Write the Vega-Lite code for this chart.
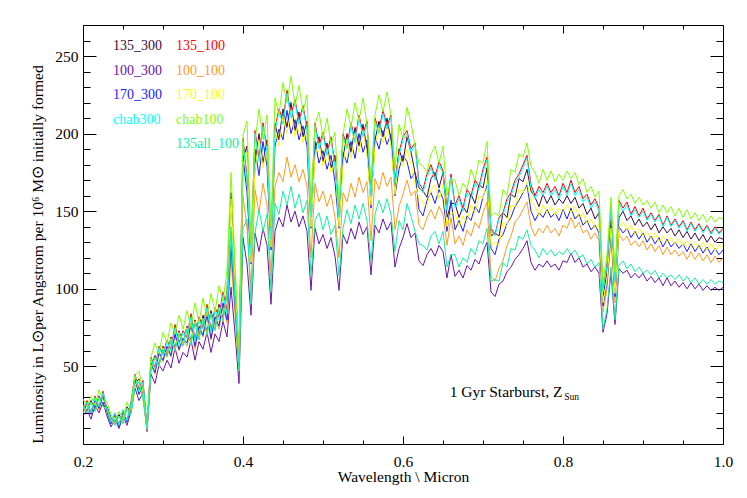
{
"$schema":"https://vega.github.io/schema/vega-lite/v6.json",
"width":640,"height":419,
"autosize":{"type":"none"},
"padding":{"left":83,"top":25,"right":24,"bottom":54},
"background":"white",
"config":{
"view":{"stroke":"#000","strokeWidth":1},
"font":"Liberation Serif",
"axis":{"labelFont":"Liberation Serif","labelFontSize":15.5,"labelColor":"#000","titleFont":"Liberation Serif","titleFontSize":15.5,"titleFontWeight":"normal","titleColor":"#000","tickColor":"#000","tickWidth":1,"domain":false,"grid":false,"labelFlush":false}
},
"datasets":{
"s135_300":[{"w":0.2,"v":26},{"w":0.205,"v":21},{"w":0.21,"v":28},{"w":0.215,"v":22},{"w":0.22,"v":31},{"w":0.225,"v":25},{"w":0.23,"v":24},{"w":0.235,"v":17},{"w":0.24,"v":13},{"w":0.245,"v":19},
{"w":0.25,"v":14},{"w":0.255,"v":24},{"w":0.26,"v":20},{"w":0.265,"v":39},{"w":0.27,"v":42},{"w":0.275,"v":30},{"w":0.28,"v":10},{"w":0.285,"v":50},{"w":0.29,"v":57},{"w":0.295,"v":51},
{"w":0.3,"v":63},{"w":0.305,"v":57},{"w":0.31,"v":69},{"w":0.315,"v":62},{"w":0.32,"v":73},{"w":0.325,"v":65},{"w":0.33,"v":76},{"w":0.335,"v":66},{"w":0.34,"v":80},{"w":0.345,"v":69},
{"w":0.35,"v":83},{"w":0.355,"v":72},{"w":0.36,"v":86},{"w":0.365,"v":75},{"w":0.37,"v":90},{"w":0.375,"v":81},{"w":0.38,"v":99},{"w":0.385,"v":162},{"w":0.39,"v":108},{"w":0.395,"v":54},
{"w":0.4,"v":184},{"w":0.405,"v":192},{"w":0.41,"v":120},{"w":0.415,"v":180},{"w":0.42,"v":200},{"w":0.425,"v":181},{"w":0.43,"v":196},{"w":0.435,"v":129},{"w":0.44,"v":206},{"w":0.445,"v":196},
{"w":0.45,"v":216},{"w":0.455,"v":204},{"w":0.46,"v":220},{"w":0.465,"v":202},{"w":0.47,"v":214},{"w":0.475,"v":198},{"w":0.48,"v":208},{"w":0.485,"v":143},{"w":0.49,"v":190},{"w":0.495,"v":198},
{"w":0.5,"v":182},{"w":0.505,"v":194},{"w":0.51,"v":178},{"w":0.515,"v":186},{"w":0.52,"v":143},{"w":0.525,"v":184},{"w":0.53,"v":200},{"w":0.535,"v":188},{"w":0.54,"v":204},{"w":0.545,"v":192},
{"w":0.55,"v":206},{"w":0.555,"v":190},{"w":0.56,"v":157},{"w":0.565,"v":196},{"w":0.57,"v":208},{"w":0.575,"v":198},{"w":0.58,"v":210},{"w":0.585,"v":196},{"w":0.59,"v":165},{"w":0.595,"v":190},
{"w":0.6,"v":182},{"w":0.605,"v":198},{"w":0.61,"v":188},{"w":0.615,"v":175},{"w":0.62,"v":165},{"w":0.625,"v":163},{"w":0.63,"v":159},{"w":0.635,"v":171},{"w":0.64,"v":175},{"w":0.645,"v":165},
{"w":0.65,"v":175},{"w":0.655,"v":146},{"w":0.66,"v":155},{"w":0.665,"v":155},{"w":0.67,"v":146},{"w":0.675,"v":153},{"w":0.68,"v":149},{"w":0.685,"v":161},{"w":0.69,"v":155},{"w":0.695,"v":167},
{"w":0.7,"v":165},{"w":0.705,"v":178},{"w":0.71,"v":134},{"w":0.715,"v":136},{"w":0.72,"v":134},{"w":0.725,"v":149},{"w":0.73,"v":146},{"w":0.735,"v":161},{"w":0.74,"v":159},{"w":0.745,"v":171},
{"w":0.75,"v":169},{"w":0.755,"v":177},{"w":0.76,"v":163},{"w":0.765,"v":159},{"w":0.77,"v":153},{"w":0.775,"v":161},{"w":0.78,"v":155},{"w":0.785,"v":160},{"w":0.79,"v":154},{"w":0.795,"v":158},
{"w":0.8,"v":155},{"w":0.805,"v":160},{"w":0.81,"v":155},{"w":0.815,"v":159},{"w":0.82,"v":152},{"w":0.825,"v":155},{"w":0.83,"v":148},{"w":0.835,"v":152},{"w":0.84,"v":145},{"w":0.845,"v":149},
{"w":0.85,"v":95},{"w":0.855,"v":111},{"w":0.86,"v":145},{"w":0.865,"v":101},{"w":0.87,"v":146},{"w":0.875,"v":150},{"w":0.88,"v":144},{"w":0.885,"v":147},{"w":0.89,"v":141},{"w":0.895,"v":145},
{"w":0.9,"v":140},{"w":0.905,"v":143},{"w":0.91,"v":138},{"w":0.915,"v":142},{"w":0.92,"v":136},{"w":0.925,"v":140},{"w":0.93,"v":136},{"w":0.935,"v":139},{"w":0.94,"v":134},{"w":0.945,"v":138},
{"w":0.95,"v":133},{"w":0.955,"v":137},{"w":0.96,"v":132},{"w":0.965,"v":136},{"w":0.97,"v":131},{"w":0.975,"v":135},{"w":0.98,"v":130},{"w":0.985,"v":134},{"w":0.99,"v":130},{"w":0.995,"v":133},
{"w":1,"v":132}],
"s135_100":[{"w":0.2,"v":22},{"w":0.205,"v":28},{"w":0.21,"v":20},{"w":0.215,"v":31},{"w":0.22,"v":24},{"w":0.225,"v":34},{"w":0.23,"v":22},{"w":0.235,"v":14},{"w":0.24,"v":20},{"w":0.245,"v":12},
{"w":0.25,"v":22},{"w":0.255,"v":15},{"w":0.26,"v":27},{"w":0.265,"v":45},{"w":0.27,"v":35},{"w":0.275,"v":41},{"w":0.28,"v":10},{"w":0.285,"v":56},{"w":0.29,"v":49},{"w":0.295,"v":63},
{"w":0.3,"v":58},{"w":0.305,"v":67},{"w":0.31,"v":61},{"w":0.315,"v":77},{"w":0.32,"v":65},{"w":0.325,"v":73},{"w":0.33,"v":69},{"w":0.335,"v":84},{"w":0.34,"v":67},{"w":0.345,"v":82},
{"w":0.35,"v":75},{"w":0.355,"v":90},{"w":0.36,"v":73},{"w":0.365,"v":88},{"w":0.37,"v":82},{"w":0.375,"v":98},{"w":0.38,"v":86},{"w":0.385,"v":136},{"w":0.39,"v":96},{"w":0.395,"v":56},
{"w":0.4,"v":197},{"w":0.405,"v":172},{"w":0.41,"v":123},{"w":0.415,"v":202},{"w":0.42,"v":184},{"w":0.425,"v":207},{"w":0.43,"v":190},{"w":0.435,"v":133},{"w":0.44,"v":204},{"w":0.445,"v":216},
{"w":0.45,"v":208},{"w":0.455,"v":228},{"w":0.46,"v":212},{"w":0.465,"v":222},{"w":0.47,"v":208},{"w":0.475,"v":218},{"w":0.48,"v":204},{"w":0.485,"v":147},{"w":0.49,"v":207},{"w":0.495,"v":192},
{"w":0.5,"v":201},{"w":0.505,"v":188},{"w":0.51,"v":198},{"w":0.515,"v":180},{"w":0.52,"v":147},{"w":0.525,"v":200},{"w":0.53,"v":192},{"w":0.535,"v":207},{"w":0.54,"v":196},{"w":0.545,"v":212},
{"w":0.55,"v":200},{"w":0.555,"v":208},{"w":0.56,"v":162},{"w":0.565,"v":210},{"w":0.57,"v":202},{"w":0.575,"v":215},{"w":0.58,"v":205},{"w":0.585,"v":212},{"w":0.59,"v":170},{"w":0.595,"v":188},
{"w":0.6,"v":198},{"w":0.605,"v":202},{"w":0.61,"v":190},{"w":0.615,"v":194},{"w":0.62,"v":168},{"w":0.625,"v":164},{"w":0.63,"v":174},{"w":0.635,"v":180},{"w":0.64,"v":172},{"w":0.645,"v":182},
{"w":0.65,"v":176},{"w":0.655,"v":152},{"w":0.66,"v":174},{"w":0.665,"v":154},{"w":0.67,"v":160},{"w":0.675,"v":152},{"w":0.68,"v":164},{"w":0.685,"v":160},{"w":0.69,"v":170},{"w":0.695,"v":166},
{"w":0.7,"v":177},{"w":0.705,"v":185},{"w":0.71,"v":139},{"w":0.715,"v":135},{"w":0.72,"v":146},{"w":0.725,"v":149},{"w":0.73,"v":158},{"w":0.735,"v":162},{"w":0.74,"v":170},{"w":0.745,"v":174},
{"w":0.75,"v":180},{"w":0.755,"v":186},{"w":0.76,"v":167},{"w":0.765,"v":160},{"w":0.77,"v":166},{"w":0.775,"v":162},{"w":0.78,"v":168},{"w":0.785,"v":162},{"w":0.79,"v":166},{"w":0.795,"v":160},
{"w":0.8,"v":168},{"w":0.805,"v":162},{"w":0.81,"v":170},{"w":0.815,"v":162},{"w":0.82,"v":166},{"w":0.825,"v":158},{"w":0.83,"v":161},{"w":0.835,"v":154},{"w":0.84,"v":158},{"w":0.845,"v":152},
{"w":0.85,"v":99},{"w":0.855,"v":116},{"w":0.86,"v":154},{"w":0.865,"v":106},{"w":0.87,"v":157},{"w":0.875,"v":152},{"w":0.88,"v":156},{"w":0.885,"v":148},{"w":0.89,"v":153},{"w":0.895,"v":147},
{"w":0.9,"v":152},{"w":0.905,"v":145},{"w":0.91,"v":149},{"w":0.915,"v":144},{"w":0.92,"v":148},{"w":0.925,"v":141},{"w":0.93,"v":147},{"w":0.935,"v":141},{"w":0.94,"v":145},{"w":0.945,"v":140},
{"w":0.95,"v":144},{"w":0.955,"v":138},{"w":0.96,"v":143},{"w":0.965,"v":138},{"w":0.97,"v":142},{"w":0.975,"v":137},{"w":0.98,"v":141},{"w":0.985,"v":136},{"w":0.99,"v":140},{"w":0.995,"v":136},
{"w":1,"v":139}],
"s100_300":[{"w":0.2,"v":18},{"w":0.205,"v":22},{"w":0.21,"v":16},{"w":0.215,"v":25},{"w":0.22,"v":20},{"w":0.225,"v":27},{"w":0.23,"v":18},{"w":0.235,"v":11},{"w":0.24,"v":16},{"w":0.245,"v":10},
{"w":0.25,"v":18},{"w":0.255,"v":12},{"w":0.26,"v":21},{"w":0.265,"v":36},{"w":0.27,"v":28},{"w":0.275,"v":33},{"w":0.28,"v":8},{"w":0.285,"v":45},{"w":0.29,"v":39},{"w":0.295,"v":51},
{"w":0.3,"v":47},{"w":0.305,"v":54},{"w":0.31,"v":49},{"w":0.315,"v":62},{"w":0.32,"v":52},{"w":0.325,"v":59},{"w":0.33,"v":56},{"w":0.335,"v":67},{"w":0.34,"v":54},{"w":0.345,"v":66},
{"w":0.35,"v":61},{"w":0.355,"v":72},{"w":0.36,"v":59},{"w":0.365,"v":71},{"w":0.37,"v":66},{"w":0.375,"v":79},{"w":0.38,"v":69},{"w":0.385,"v":101},{"w":0.39,"v":71},{"w":0.395,"v":39},
{"w":0.4,"v":133},{"w":0.405,"v":116},{"w":0.41,"v":83},{"w":0.415,"v":136},{"w":0.42,"v":124},{"w":0.425,"v":139},{"w":0.43,"v":128},{"w":0.435,"v":90},{"w":0.44,"v":137},{"w":0.445,"v":146},
{"w":0.45,"v":140},{"w":0.455,"v":154},{"w":0.46,"v":143},{"w":0.465,"v":150},{"w":0.47,"v":140},{"w":0.475,"v":147},{"w":0.48,"v":137},{"w":0.485,"v":99},{"w":0.49,"v":139},{"w":0.495,"v":129},
{"w":0.5,"v":135},{"w":0.505,"v":126},{"w":0.51,"v":133},{"w":0.515,"v":121},{"w":0.52,"v":99},{"w":0.525,"v":135},{"w":0.53,"v":129},{"w":0.535,"v":139},{"w":0.54,"v":132},{"w":0.545,"v":143},
{"w":0.55,"v":135},{"w":0.555,"v":140},{"w":0.56,"v":109},{"w":0.565,"v":141},{"w":0.57,"v":136},{"w":0.575,"v":145},{"w":0.58,"v":138},{"w":0.585,"v":143},{"w":0.59,"v":114},{"w":0.595,"v":126},
{"w":0.6,"v":133},{"w":0.605,"v":142},{"w":0.61,"v":133},{"w":0.615,"v":136},{"w":0.62,"v":118},{"w":0.625,"v":115},{"w":0.63,"v":122},{"w":0.635,"v":126},{"w":0.64,"v":121},{"w":0.645,"v":128},
{"w":0.65,"v":124},{"w":0.655,"v":107},{"w":0.66,"v":122},{"w":0.665,"v":108},{"w":0.67,"v":112},{"w":0.675,"v":107},{"w":0.68,"v":115},{"w":0.685,"v":112},{"w":0.69,"v":119},{"w":0.695,"v":116},
{"w":0.7,"v":124},{"w":0.705,"v":130},{"w":0.71,"v":98},{"w":0.715,"v":95},{"w":0.72,"v":103},{"w":0.725,"v":105},{"w":0.73,"v":111},{"w":0.735,"v":114},{"w":0.74,"v":119},{"w":0.745,"v":122},
{"w":0.75,"v":126},{"w":0.755,"v":131},{"w":0.76,"v":117},{"w":0.765,"v":112},{"w":0.77,"v":116},{"w":0.775,"v":114},{"w":0.78,"v":118},{"w":0.785,"v":114},{"w":0.79,"v":116},{"w":0.795,"v":112},
{"w":0.8,"v":118},{"w":0.805,"v":117},{"w":0.81,"v":123},{"w":0.815,"v":117},{"w":0.82,"v":120},{"w":0.825,"v":114},{"w":0.83,"v":116},{"w":0.835,"v":111},{"w":0.84,"v":114},{"w":0.845,"v":110},
{"w":0.85,"v":72},{"w":0.855,"v":84},{"w":0.86,"v":111},{"w":0.865,"v":77},{"w":0.87,"v":113},{"w":0.875,"v":110},{"w":0.88,"v":112},{"w":0.885,"v":107},{"w":0.89,"v":110},{"w":0.895,"v":107},
{"w":0.9,"v":110},{"w":0.905,"v":105},{"w":0.91,"v":108},{"w":0.915,"v":104},{"w":0.92,"v":107},{"w":0.925,"v":102},{"w":0.93,"v":107},{"w":0.935,"v":102},{"w":0.94,"v":105},{"w":0.945,"v":101},
{"w":0.95,"v":104},{"w":0.955,"v":100},{"w":0.96,"v":104},{"w":0.965,"v":100},{"w":0.97,"v":103},{"w":0.975,"v":99},{"w":0.98,"v":102},{"w":0.985,"v":99},{"w":0.99,"v":101},{"w":0.995,"v":99},
{"w":1,"v":101}],
"s100_100":[{"w":0.2,"v":20},{"w":0.205,"v":25},{"w":0.21,"v":19},{"w":0.215,"v":28},{"w":0.22,"v":22},{"w":0.225,"v":31},{"w":0.23,"v":20},{"w":0.235,"v":13},{"w":0.24,"v":19},{"w":0.245,"v":11},
{"w":0.25,"v":20},{"w":0.255,"v":14},{"w":0.26,"v":24},{"w":0.265,"v":41},{"w":0.27,"v":32},{"w":0.275,"v":37},{"w":0.28,"v":9},{"w":0.285,"v":51},{"w":0.29,"v":45},{"w":0.295,"v":58},
{"w":0.3,"v":53},{"w":0.305,"v":61},{"w":0.31,"v":56},{"w":0.315,"v":70},{"w":0.32,"v":60},{"w":0.325,"v":67},{"w":0.33,"v":63},{"w":0.335,"v":76},{"w":0.34,"v":61},{"w":0.345,"v":74},
{"w":0.35,"v":69},{"w":0.355,"v":82},{"w":0.36,"v":67},{"w":0.365,"v":80},{"w":0.37,"v":74},{"w":0.375,"v":89},{"w":0.38,"v":78},{"w":0.385,"v":119},{"w":0.39,"v":84},{"w":0.395,"v":47},
{"w":0.4,"v":160},{"w":0.405,"v":139},{"w":0.41,"v":100},{"w":0.415,"v":164},{"w":0.42,"v":149},{"w":0.425,"v":168},{"w":0.43,"v":154},{"w":0.435,"v":108},{"w":0.44,"v":166},{"w":0.445,"v":175},
{"w":0.45,"v":169},{"w":0.455,"v":185},{"w":0.46,"v":172},{"w":0.465,"v":180},{"w":0.47,"v":169},{"w":0.475,"v":177},{"w":0.48,"v":166},{"w":0.485,"v":120},{"w":0.49,"v":168},{"w":0.495,"v":156},
{"w":0.5,"v":163},{"w":0.505,"v":153},{"w":0.51,"v":161},{"w":0.515,"v":146},{"w":0.52,"v":120},{"w":0.525,"v":162},{"w":0.53,"v":156},{"w":0.535,"v":168},{"w":0.54,"v":159},{"w":0.545,"v":172},
{"w":0.55,"v":162},{"w":0.555,"v":169},{"w":0.56,"v":131},{"w":0.565,"v":171},{"w":0.57,"v":164},{"w":0.575,"v":175},{"w":0.58,"v":166},{"w":0.585,"v":172},{"w":0.59,"v":138},{"w":0.595,"v":153},
{"w":0.6,"v":161},{"w":0.605,"v":170},{"w":0.61,"v":160},{"w":0.615,"v":163},{"w":0.62,"v":141},{"w":0.625,"v":138},{"w":0.63,"v":146},{"w":0.635,"v":151},{"w":0.64,"v":145},{"w":0.645,"v":153},
{"w":0.65,"v":148},{"w":0.655,"v":128},{"w":0.66,"v":146},{"w":0.665,"v":129},{"w":0.67,"v":134},{"w":0.675,"v":128},{"w":0.68,"v":138},{"w":0.685,"v":134},{"w":0.69,"v":143},{"w":0.695,"v":139},
{"w":0.7,"v":149},{"w":0.705,"v":156},{"w":0.71,"v":108},{"w":0.715,"v":105},{"w":0.72,"v":113},{"w":0.725,"v":118},{"w":0.73,"v":128},{"w":0.735,"v":134},{"w":0.74,"v":143},{"w":0.745,"v":146},
{"w":0.75,"v":151},{"w":0.755,"v":156},{"w":0.76,"v":140},{"w":0.765,"v":134},{"w":0.77,"v":139},{"w":0.775,"v":136},{"w":0.78,"v":141},{"w":0.785,"v":136},{"w":0.79,"v":139},{"w":0.795,"v":134},
{"w":0.8,"v":141},{"w":0.805,"v":139},{"w":0.81,"v":146},{"w":0.815,"v":139},{"w":0.82,"v":143},{"w":0.825,"v":136},{"w":0.83,"v":138},{"w":0.835,"v":132},{"w":0.84,"v":136},{"w":0.845,"v":131},
{"w":0.85,"v":85},{"w":0.855,"v":100},{"w":0.86,"v":132},{"w":0.865,"v":91},{"w":0.87,"v":135},{"w":0.875,"v":131},{"w":0.88,"v":134},{"w":0.885,"v":128},{"w":0.89,"v":131},{"w":0.895,"v":127},
{"w":0.9,"v":131},{"w":0.905,"v":125},{"w":0.91,"v":129},{"w":0.915,"v":124},{"w":0.92,"v":128},{"w":0.925,"v":122},{"w":0.93,"v":127},{"w":0.935,"v":122},{"w":0.94,"v":125},{"w":0.945,"v":121},
{"w":0.95,"v":124},{"w":0.955,"v":119},{"w":0.96,"v":124},{"w":0.965,"v":119},{"w":0.97,"v":123},{"w":0.975,"v":118},{"w":0.98,"v":122},{"w":0.985,"v":117},{"w":0.99,"v":121},{"w":0.995,"v":117},
{"w":1,"v":120}],
"s170_300":[{"w":0.2,"v":21},{"w":0.205,"v":26},{"w":0.21,"v":19},{"w":0.215,"v":28},{"w":0.22,"v":23},{"w":0.225,"v":31},{"w":0.23,"v":21},{"w":0.235,"v":13},{"w":0.24,"v":19},{"w":0.245,"v":11},
{"w":0.25,"v":21},{"w":0.255,"v":14},{"w":0.26,"v":25},{"w":0.265,"v":42},{"w":0.27,"v":32},{"w":0.275,"v":38},{"w":0.28,"v":10},{"w":0.285,"v":52},{"w":0.29,"v":46},{"w":0.295,"v":59},
{"w":0.3,"v":54},{"w":0.305,"v":63},{"w":0.31,"v":57},{"w":0.315,"v":71},{"w":0.32,"v":61},{"w":0.325,"v":68},{"w":0.33,"v":65},{"w":0.335,"v":78},{"w":0.34,"v":63},{"w":0.345,"v":76},
{"w":0.35,"v":70},{"w":0.355,"v":84},{"w":0.36,"v":68},{"w":0.365,"v":82},{"w":0.37,"v":76},{"w":0.375,"v":91},{"w":0.38,"v":80},{"w":0.385,"v":128},{"w":0.39,"v":90},{"w":0.395,"v":52},
{"w":0.4,"v":185},{"w":0.405,"v":162},{"w":0.41,"v":116},{"w":0.415,"v":190},{"w":0.42,"v":173},{"w":0.425,"v":195},{"w":0.43,"v":179},{"w":0.435,"v":125},{"w":0.44,"v":192},{"w":0.445,"v":203},
{"w":0.45,"v":196},{"w":0.455,"v":215},{"w":0.46,"v":200},{"w":0.465,"v":209},{"w":0.47,"v":196},{"w":0.475,"v":205},{"w":0.48,"v":192},{"w":0.485,"v":139},{"w":0.49,"v":195},{"w":0.495,"v":181},
{"w":0.5,"v":189},{"w":0.505,"v":177},{"w":0.51,"v":186},{"w":0.515,"v":169},{"w":0.52,"v":139},{"w":0.525,"v":188},{"w":0.53,"v":181},{"w":0.535,"v":195},{"w":0.54,"v":184},{"w":0.545,"v":200},
{"w":0.55,"v":188},{"w":0.555,"v":196},{"w":0.56,"v":152},{"w":0.565,"v":198},{"w":0.57,"v":190},{"w":0.575,"v":202},{"w":0.58,"v":193},{"w":0.585,"v":200},{"w":0.59,"v":160},{"w":0.595,"v":177},
{"w":0.6,"v":186},{"w":0.605,"v":182},{"w":0.61,"v":171},{"w":0.615,"v":175},{"w":0.62,"v":151},{"w":0.625,"v":147},{"w":0.63,"v":157},{"w":0.635,"v":162},{"w":0.64,"v":155},{"w":0.645,"v":164},
{"w":0.65,"v":158},{"w":0.655,"v":137},{"w":0.66,"v":157},{"w":0.665,"v":138},{"w":0.67,"v":144},{"w":0.675,"v":137},{"w":0.68,"v":147},{"w":0.685,"v":144},{"w":0.69,"v":153},{"w":0.695,"v":149},
{"w":0.7,"v":159},{"w":0.705,"v":167},{"w":0.71,"v":126},{"w":0.715,"v":122},{"w":0.72,"v":132},{"w":0.725,"v":135},{"w":0.73,"v":142},{"w":0.735,"v":146},{"w":0.74,"v":153},{"w":0.745,"v":157},
{"w":0.75,"v":162},{"w":0.755,"v":167},{"w":0.76,"v":150},{"w":0.765,"v":144},{"w":0.77,"v":149},{"w":0.775,"v":146},{"w":0.78,"v":151},{"w":0.785,"v":146},{"w":0.79,"v":149},{"w":0.795,"v":144},
{"w":0.8,"v":151},{"w":0.805,"v":145},{"w":0.81,"v":152},{"w":0.815,"v":145},{"w":0.82,"v":148},{"w":0.825,"v":141},{"w":0.83,"v":144},{"w":0.835,"v":138},{"w":0.84,"v":141},{"w":0.845,"v":136},
{"w":0.85,"v":89},{"w":0.855,"v":104},{"w":0.86,"v":138},{"w":0.865,"v":95},{"w":0.87,"v":140},{"w":0.875,"v":136},{"w":0.88,"v":139},{"w":0.885,"v":133},{"w":0.89,"v":137},{"w":0.895,"v":132},
{"w":0.9,"v":136},{"w":0.905,"v":130},{"w":0.91,"v":134},{"w":0.915,"v":129},{"w":0.92,"v":133},{"w":0.925,"v":127},{"w":0.93,"v":132},{"w":0.935,"v":127},{"w":0.94,"v":130},{"w":0.945,"v":126},
{"w":0.95,"v":129},{"w":0.955,"v":124},{"w":0.96,"v":129},{"w":0.965,"v":124},{"w":0.97,"v":128},{"w":0.975,"v":123},{"w":0.98,"v":127},{"w":0.985,"v":122},{"w":0.99,"v":126},{"w":0.995,"v":122},
{"w":1,"v":125}],
"s170_100":[{"w":0.2,"v":25},{"w":0.205,"v":20},{"w":0.21,"v":27},{"w":0.215,"v":21},{"w":0.22,"v":30},{"w":0.225,"v":24},{"w":0.23,"v":23},{"w":0.235,"v":16},{"w":0.24,"v":13},{"w":0.245,"v":18},
{"w":0.25,"v":14},{"w":0.255,"v":23},{"w":0.26,"v":19},{"w":0.265,"v":38},{"w":0.27,"v":41},{"w":0.275,"v":29},{"w":0.28,"v":10},{"w":0.285,"v":49},{"w":0.29,"v":56},{"w":0.295,"v":50},
{"w":0.3,"v":62},{"w":0.305,"v":56},{"w":0.31,"v":68},{"w":0.315,"v":61},{"w":0.32,"v":72},{"w":0.325,"v":64},{"w":0.33,"v":75},{"w":0.335,"v":65},{"w":0.34,"v":79},{"w":0.345,"v":68},
{"w":0.35,"v":81},{"w":0.355,"v":71},{"w":0.36,"v":84},{"w":0.365,"v":74},{"w":0.37,"v":88},{"w":0.375,"v":80},{"w":0.38,"v":97},{"w":0.385,"v":158},{"w":0.39,"v":106},{"w":0.395,"v":53},
{"w":0.4,"v":180},{"w":0.405,"v":188},{"w":0.41,"v":117},{"w":0.415,"v":177},{"w":0.42,"v":196},{"w":0.425,"v":178},{"w":0.43,"v":192},{"w":0.435,"v":127},{"w":0.44,"v":202},{"w":0.445,"v":192},
{"w":0.45,"v":211},{"w":0.455,"v":200},{"w":0.46,"v":215},{"w":0.465,"v":198},{"w":0.47,"v":209},{"w":0.475,"v":194},{"w":0.48,"v":204},{"w":0.485,"v":140},{"w":0.49,"v":186},{"w":0.495,"v":194},
{"w":0.5,"v":179},{"w":0.505,"v":190},{"w":0.51,"v":175},{"w":0.515,"v":182},{"w":0.52,"v":140},{"w":0.525,"v":180},{"w":0.53,"v":196},{"w":0.535,"v":184},{"w":0.54,"v":200},{"w":0.545,"v":188},
{"w":0.55,"v":202},{"w":0.555,"v":186},{"w":0.56,"v":154},{"w":0.565,"v":192},{"w":0.57,"v":204},{"w":0.575,"v":194},{"w":0.58,"v":205},{"w":0.585,"v":192},{"w":0.59,"v":161},{"w":0.595,"v":186},
{"w":0.6,"v":179},{"w":0.605,"v":190},{"w":0.61,"v":180},{"w":0.615,"v":167},{"w":0.62,"v":158},{"w":0.625,"v":156},{"w":0.63,"v":153},{"w":0.635,"v":164},{"w":0.64,"v":167},{"w":0.645,"v":158},
{"w":0.65,"v":167},{"w":0.655,"v":140},{"w":0.66,"v":149},{"w":0.665,"v":149},{"w":0.67,"v":140},{"w":0.675,"v":147},{"w":0.68,"v":143},{"w":0.685,"v":154},{"w":0.69,"v":149},{"w":0.695,"v":160},
{"w":0.7,"v":158},{"w":0.705,"v":170},{"w":0.71,"v":128},{"w":0.715,"v":130},{"w":0.72,"v":128},{"w":0.725,"v":143},{"w":0.73,"v":140},{"w":0.735,"v":154},{"w":0.74,"v":153},{"w":0.745,"v":164},
{"w":0.75,"v":162},{"w":0.755,"v":169},{"w":0.76,"v":156},{"w":0.765,"v":153},{"w":0.77,"v":147},{"w":0.775,"v":154},{"w":0.78,"v":149},{"w":0.785,"v":153},{"w":0.79,"v":148},{"w":0.795,"v":152},
{"w":0.8,"v":149},{"w":0.805,"v":154},{"w":0.81,"v":149},{"w":0.815,"v":153},{"w":0.82,"v":146},{"w":0.825,"v":149},{"w":0.83,"v":142},{"w":0.835,"v":145},{"w":0.84,"v":139},{"w":0.845,"v":142},
{"w":0.85,"v":91},{"w":0.855,"v":106},{"w":0.86,"v":139},{"w":0.865,"v":97},{"w":0.87,"v":140},{"w":0.875,"v":143},{"w":0.88,"v":138},{"w":0.885,"v":141},{"w":0.89,"v":135},{"w":0.895,"v":139},
{"w":0.9,"v":134},{"w":0.905,"v":137},{"w":0.91,"v":132},{"w":0.915,"v":136},{"w":0.92,"v":130},{"w":0.925,"v":134},{"w":0.93,"v":130},{"w":0.935,"v":133},{"w":0.94,"v":129},{"w":0.945,"v":132},
{"w":0.95,"v":128},{"w":0.955,"v":131},{"w":0.96,"v":127},{"w":0.965,"v":130},{"w":0.97,"v":126},{"w":0.975,"v":130},{"w":0.98,"v":125},{"w":0.985,"v":129},{"w":0.99,"v":125},{"w":0.995,"v":128},
{"w":1,"v":127}],
"schab300":[{"w":0.2,"v":22},{"w":0.205,"v":27},{"w":0.21,"v":20},{"w":0.215,"v":30},{"w":0.22,"v":24},{"w":0.225,"v":33},{"w":0.23,"v":22},{"w":0.235,"v":14},{"w":0.24,"v":20},{"w":0.245,"v":12},
{"w":0.25,"v":22},{"w":0.255,"v":15},{"w":0.26,"v":26},{"w":0.265,"v":44},{"w":0.27,"v":34},{"w":0.275,"v":40},{"w":0.28,"v":10},{"w":0.285,"v":55},{"w":0.29,"v":48},{"w":0.295,"v":62},
{"w":0.3,"v":57},{"w":0.305,"v":66},{"w":0.31,"v":60},{"w":0.315,"v":75},{"w":0.32,"v":64},{"w":0.325,"v":72},{"w":0.33,"v":68},{"w":0.335,"v":82},{"w":0.34,"v":66},{"w":0.345,"v":80},
{"w":0.35,"v":74},{"w":0.355,"v":88},{"w":0.36,"v":72},{"w":0.365,"v":86},{"w":0.37,"v":80},{"w":0.375,"v":96},{"w":0.38,"v":84},{"w":0.385,"v":135},{"w":0.39,"v":95},{"w":0.395,"v":55},
{"w":0.4,"v":195},{"w":0.405,"v":170},{"w":0.41,"v":122},{"w":0.415,"v":200},{"w":0.42,"v":182},{"w":0.425,"v":205},{"w":0.43,"v":188},{"w":0.435,"v":132},{"w":0.44,"v":202},{"w":0.445,"v":214},
{"w":0.45,"v":206},{"w":0.455,"v":226},{"w":0.46,"v":210},{"w":0.465,"v":220},{"w":0.47,"v":206},{"w":0.475,"v":216},{"w":0.48,"v":202},{"w":0.485,"v":146},{"w":0.49,"v":205},{"w":0.495,"v":190},
{"w":0.5,"v":199},{"w":0.505,"v":186},{"w":0.51,"v":196},{"w":0.515,"v":178},{"w":0.52,"v":146},{"w":0.525,"v":198},{"w":0.53,"v":190},{"w":0.535,"v":205},{"w":0.54,"v":194},{"w":0.545,"v":210},
{"w":0.55,"v":198},{"w":0.555,"v":206},{"w":0.56,"v":160},{"w":0.565,"v":208},{"w":0.57,"v":200},{"w":0.575,"v":213},{"w":0.58,"v":203},{"w":0.585,"v":210},{"w":0.59,"v":168},{"w":0.595,"v":186},
{"w":0.6,"v":196},{"w":0.605,"v":200},{"w":0.61,"v":188},{"w":0.615,"v":192},{"w":0.62,"v":166},{"w":0.625,"v":162},{"w":0.63,"v":172},{"w":0.635,"v":178},{"w":0.64,"v":170},{"w":0.645,"v":180},
{"w":0.65,"v":174},{"w":0.655,"v":150},{"w":0.66,"v":172},{"w":0.665,"v":152},{"w":0.67,"v":158},{"w":0.675,"v":150},{"w":0.68,"v":162},{"w":0.685,"v":158},{"w":0.69,"v":168},{"w":0.695,"v":164},
{"w":0.7,"v":175},{"w":0.705,"v":183},{"w":0.71,"v":138},{"w":0.715,"v":134},{"w":0.72,"v":145},{"w":0.725,"v":148},{"w":0.73,"v":156},{"w":0.735,"v":160},{"w":0.74,"v":168},{"w":0.745,"v":172},
{"w":0.75,"v":178},{"w":0.755,"v":184},{"w":0.76,"v":165},{"w":0.765,"v":158},{"w":0.77,"v":164},{"w":0.775,"v":160},{"w":0.78,"v":166},{"w":0.785,"v":160},{"w":0.79,"v":164},{"w":0.795,"v":158},
{"w":0.8,"v":166},{"w":0.805,"v":160},{"w":0.81,"v":168},{"w":0.815,"v":160},{"w":0.82,"v":164},{"w":0.825,"v":156},{"w":0.83,"v":159},{"w":0.835,"v":152},{"w":0.84,"v":156},{"w":0.845,"v":150},
{"w":0.85,"v":98},{"w":0.855,"v":115},{"w":0.86,"v":152},{"w":0.865,"v":105},{"w":0.87,"v":155},{"w":0.875,"v":150},{"w":0.88,"v":154},{"w":0.885,"v":147},{"w":0.89,"v":151},{"w":0.895,"v":146},
{"w":0.9,"v":150},{"w":0.905,"v":144},{"w":0.91,"v":148},{"w":0.915,"v":143},{"w":0.92,"v":147},{"w":0.925,"v":140},{"w":0.93,"v":146},{"w":0.935,"v":140},{"w":0.94,"v":144},{"w":0.945,"v":139},
{"w":0.95,"v":143},{"w":0.955,"v":137},{"w":0.96,"v":142},{"w":0.965,"v":137},{"w":0.97,"v":141},{"w":0.975,"v":136},{"w":0.98,"v":140},{"w":0.985,"v":135},{"w":0.99,"v":139},{"w":0.995,"v":135},
{"w":1,"v":138}],
"schab100":[{"w":0.2,"v":29},{"w":0.205,"v":24},{"w":0.21,"v":31},{"w":0.215,"v":25},{"w":0.22,"v":35},{"w":0.225,"v":28},{"w":0.23,"v":27},{"w":0.235,"v":19},{"w":0.24,"v":15},{"w":0.245,"v":21},
{"w":0.25,"v":16},{"w":0.255,"v":27},{"w":0.26,"v":22},{"w":0.265,"v":44},{"w":0.27,"v":47},{"w":0.275,"v":34},{"w":0.28,"v":11},{"w":0.285,"v":56},{"w":0.29,"v":65},{"w":0.295,"v":58},
{"w":0.3,"v":72},{"w":0.305,"v":65},{"w":0.31,"v":78},{"w":0.315,"v":71},{"w":0.32,"v":83},{"w":0.325,"v":74},{"w":0.33,"v":86},{"w":0.335,"v":75},{"w":0.34,"v":91},{"w":0.345,"v":78},
{"w":0.35,"v":94},{"w":0.355,"v":82},{"w":0.36,"v":97},{"w":0.365,"v":85},{"w":0.37,"v":102},{"w":0.375,"v":92},{"w":0.38,"v":112},{"w":0.385,"v":175},{"w":0.39,"v":117},{"w":0.395,"v":58},
{"w":0.4,"v":199},{"w":0.405,"v":208},{"w":0.41,"v":129},{"w":0.415,"v":195},{"w":0.42,"v":216},{"w":0.425,"v":196},{"w":0.43,"v":212},{"w":0.435,"v":140},{"w":0.44,"v":223},{"w":0.445,"v":212},
{"w":0.45,"v":233},{"w":0.455,"v":220},{"w":0.46,"v":237},{"w":0.465,"v":218},{"w":0.47,"v":231},{"w":0.475,"v":214},{"w":0.48,"v":225},{"w":0.485,"v":155},{"w":0.49,"v":206},{"w":0.495,"v":214},
{"w":0.5,"v":197},{"w":0.505,"v":210},{"w":0.51,"v":193},{"w":0.515,"v":201},{"w":0.52,"v":155},{"w":0.525,"v":199},{"w":0.53,"v":216},{"w":0.535,"v":204},{"w":0.54,"v":220},{"w":0.545,"v":208},
{"w":0.55,"v":223},{"w":0.555,"v":206},{"w":0.56,"v":170},{"w":0.565,"v":212},{"w":0.57,"v":225},{"w":0.575,"v":214},{"w":0.58,"v":227},{"w":0.585,"v":212},{"w":0.59,"v":178},{"w":0.595,"v":206},
{"w":0.6,"v":197},{"w":0.605,"v":217},{"w":0.61,"v":207},{"w":0.615,"v":192},{"w":0.62,"v":181},{"w":0.625,"v":179},{"w":0.63,"v":175},{"w":0.635,"v":187},{"w":0.64,"v":192},{"w":0.645,"v":181},
{"w":0.65,"v":192},{"w":0.655,"v":160},{"w":0.66,"v":170},{"w":0.665,"v":170},{"w":0.67,"v":160},{"w":0.675,"v":168},{"w":0.68,"v":164},{"w":0.685,"v":177},{"w":0.69,"v":170},{"w":0.695,"v":183},
{"w":0.7,"v":181},{"w":0.705,"v":195},{"w":0.71,"v":147},{"w":0.715,"v":149},{"w":0.72,"v":147},{"w":0.725,"v":164},{"w":0.73,"v":160},{"w":0.735,"v":177},{"w":0.74,"v":175},{"w":0.745,"v":187},
{"w":0.75,"v":185},{"w":0.755,"v":194},{"w":0.76,"v":179},{"w":0.765,"v":175},{"w":0.77,"v":168},{"w":0.775,"v":177},{"w":0.78,"v":170},{"w":0.785,"v":176},{"w":0.79,"v":169},{"w":0.795,"v":174},
{"w":0.8,"v":170},{"w":0.805,"v":176},{"w":0.81,"v":171},{"w":0.815,"v":175},{"w":0.82,"v":167},{"w":0.825,"v":171},{"w":0.83,"v":162},{"w":0.835,"v":166},{"w":0.84,"v":159},{"w":0.845,"v":163},
{"w":0.85,"v":104},{"w":0.855,"v":122},{"w":0.86,"v":159},{"w":0.865,"v":111},{"w":0.87,"v":160},{"w":0.875,"v":164},{"w":0.88,"v":158},{"w":0.885,"v":161},{"w":0.89,"v":155},{"w":0.895,"v":159},
{"w":0.9,"v":154},{"w":0.905,"v":157},{"w":0.91,"v":152},{"w":0.915,"v":156},{"w":0.92,"v":149},{"w":0.925,"v":154},{"w":0.93,"v":149},{"w":0.935,"v":153},{"w":0.94,"v":147},{"w":0.945,"v":152},
{"w":0.95,"v":146},{"w":0.955,"v":151},{"w":0.96,"v":145},{"w":0.965,"v":149},{"w":0.97,"v":144},{"w":0.975,"v":148},{"w":0.98,"v":143},{"w":0.985,"v":147},{"w":0.99,"v":143},{"w":0.995,"v":146},
{"w":1,"v":145}],
"s135all_100":[{"w":0.2,"v":25},{"w":0.205,"v":20},{"w":0.21,"v":27},{"w":0.215,"v":21},{"w":0.22,"v":30},{"w":0.225,"v":24},{"w":0.23,"v":23},{"w":0.235,"v":16},{"w":0.24,"v":12},{"w":0.245,"v":18},
{"w":0.25,"v":13},{"w":0.255,"v":23},{"w":0.26,"v":19},{"w":0.265,"v":37},{"w":0.27,"v":40},{"w":0.275,"v":29},{"w":0.28,"v":10},{"w":0.285,"v":48},{"w":0.29,"v":56},{"w":0.295,"v":50},
{"w":0.3,"v":61},{"w":0.305,"v":56},{"w":0.31,"v":67},{"w":0.315,"v":60},{"w":0.32,"v":71},{"w":0.325,"v":63},{"w":0.33,"v":74},{"w":0.335,"v":64},{"w":0.34,"v":78},{"w":0.345,"v":67},
{"w":0.35,"v":81},{"w":0.355,"v":70},{"w":0.36,"v":84},{"w":0.365,"v":73},{"w":0.37,"v":87},{"w":0.375,"v":79},{"w":0.38,"v":96},{"w":0.385,"v":140},{"w":0.39,"v":94},{"w":0.395,"v":47},
{"w":0.4,"v":139},{"w":0.405,"v":145},{"w":0.41,"v":90},{"w":0.415,"v":136},{"w":0.42,"v":151},{"w":0.425,"v":137},{"w":0.43,"v":148},{"w":0.435,"v":98},{"w":0.44,"v":155},{"w":0.445,"v":148},
{"w":0.45,"v":163},{"w":0.455,"v":154},{"w":0.46,"v":166},{"w":0.465,"v":152},{"w":0.47,"v":161},{"w":0.475,"v":149},{"w":0.48,"v":157},{"w":0.485,"v":108},{"w":0.49,"v":144},{"w":0.495,"v":149},
{"w":0.5,"v":138},{"w":0.505,"v":147},{"w":0.51,"v":135},{"w":0.515,"v":141},{"w":0.52,"v":108},{"w":0.525,"v":139},{"w":0.53,"v":151},{"w":0.535,"v":142},{"w":0.54,"v":154},{"w":0.545,"v":145},
{"w":0.55,"v":155},{"w":0.555,"v":144},{"w":0.56,"v":118},{"w":0.565,"v":148},{"w":0.57,"v":157},{"w":0.575,"v":149},{"w":0.58,"v":158},{"w":0.585,"v":148},{"w":0.59,"v":124},{"w":0.595,"v":144},
{"w":0.6,"v":138},{"w":0.605,"v":155},{"w":0.61,"v":147},{"w":0.615,"v":137},{"w":0.62,"v":129},{"w":0.625,"v":128},{"w":0.63,"v":125},{"w":0.635,"v":134},{"w":0.64,"v":137},{"w":0.645,"v":129},
{"w":0.65,"v":137},{"w":0.655,"v":114},{"w":0.66,"v":122},{"w":0.665,"v":122},{"w":0.67,"v":114},{"w":0.675,"v":120},{"w":0.68,"v":117},{"w":0.685,"v":126},{"w":0.69,"v":122},{"w":0.695,"v":131},
{"w":0.7,"v":129},{"w":0.705,"v":139},{"w":0.71,"v":105},{"w":0.715,"v":106},{"w":0.72,"v":105},{"w":0.725,"v":117},{"w":0.73,"v":114},{"w":0.735,"v":126},{"w":0.74,"v":125},{"w":0.745,"v":134},
{"w":0.75,"v":132},{"w":0.755,"v":138},{"w":0.76,"v":128},{"w":0.765,"v":125},{"w":0.77,"v":120},{"w":0.775,"v":126},{"w":0.78,"v":122},{"w":0.785,"v":125},{"w":0.79,"v":121},{"w":0.795,"v":124},
{"w":0.8,"v":122},{"w":0.805,"v":126},{"w":0.81,"v":122},{"w":0.815,"v":125},{"w":0.82,"v":120},{"w":0.825,"v":122},{"w":0.83,"v":116},{"w":0.835,"v":119},{"w":0.84,"v":114},{"w":0.845,"v":117},
{"w":0.85,"v":74},{"w":0.855,"v":87},{"w":0.86,"v":114},{"w":0.865,"v":80},{"w":0.87,"v":115},{"w":0.875,"v":118},{"w":0.88,"v":113},{"w":0.885,"v":116},{"w":0.89,"v":111},{"w":0.895,"v":114},
{"w":0.9,"v":110},{"w":0.905,"v":112},{"w":0.91,"v":109},{"w":0.915,"v":112},{"w":0.92,"v":107},{"w":0.925,"v":110},{"w":0.93,"v":107},{"w":0.935,"v":109},{"w":0.94,"v":106},{"w":0.945,"v":109},
{"w":0.95,"v":105},{"w":0.955,"v":108},{"w":0.96,"v":104},{"w":0.965,"v":107},{"w":0.97,"v":103},{"w":0.975,"v":106},{"w":0.98,"v":103},{"w":0.985,"v":106},{"w":0.99,"v":103},{"w":0.995,"v":105},
{"w":1,"v":104}]
},
"layer":[
{"data":{"name":"s135_300"},"mark":{"type":"line","strokeWidth":1,"clip":true},
"encoding":{
"x":{"field":"w","type":"quantitative","scale":{"domain":[0.2,1.0],"nice":false,"zero":false},"axis":{"orient":"bottom","values":[0.2,0.4,0.6,0.8,1.0],"format":".1f","tickSize":-8,"labelPadding":18,"title":"Wavelength \\ Micron","titlePadding":0}},
"y":{"field":"v","type":"quantitative","scale":{"domain":[0,270],"nice":false,"zero":false},"axis":{"orient":"left","values":[50,100,150,200,250],"tickSize":-13,"labelPadding":18,"title":"Luminosity in L⊙per Angstrom per 10⁶ M⊙ initially formed","titlePadding":9,"titleY":229}},
"color":{"datum":"135_300","type":"nominal","scale":{"domain":["135_300","135_100","100_300","100_100","170_300","170_100","chab300","chab100","135all_100"],"range":["#3d0a3d","#ff0000","#6a14a8","#ff9a1f","#2020ff","#ffff00","#00ffff","#80ff00","#10f0a0"]},
"legend":{"orient":"none","legendX":16,"legendY":14,"columns":2,"direction":"horizontal","title":null,"values":["135_300","135_100","100_300","100_100","170_300","170_100","chab300","chab100"," ","135all_100"],"symbolSize":0,"symbolStrokeWidth":0,"symbolOpacity":0,"labelOffset":0,"labelFont":"Liberation Serif","labelFontSize":14,"rowPadding":10.5,"columnPadding":-3,"padding":0,"labelLimit":0,"encode":{"labels":{"update":{"fill":{"scale":"color","field":"value"}}}}}}
}},
{"data":{"name":"s135_100"},"mark":{"type":"line","strokeWidth":1,"clip":true},
"encoding":{
"x":{"field":"w","type":"quantitative","axis":{"orient":"bottom","values":[0.25,0.3,0.35,0.45,0.5,0.55,0.65,0.7,0.75,0.85,0.9,0.95],"tickSize":-4,"labels":false,"title":null}},
"y":{"field":"v","type":"quantitative","axis":{"orient":"left","values":[10,20,30,40,60,70,80,90,110,120,130,140,160,170,180,190,210,220,230,240,260],"tickSize":-7,"labels":false,"title":null}},
"color":{"datum":"135_100","type":"nominal"}}},
{"data":{"name":"s100_300"},"mark":{"type":"line","strokeWidth":1,"clip":true},
"encoding":{
"x":{"field":"w","type":"quantitative","axis":{"orient":"top","values":[0.2,0.4,0.6,0.8,1.0],"tickSize":-8,"labels":false,"title":null}},
"y":{"field":"v","type":"quantitative","axis":{"orient":"right","values":[50,100,150,200,250],"tickSize":-13,"labels":false,"title":null}},
"color":{"datum":"100_300","type":"nominal"}}},
{"data":{"name":"s100_100"},"mark":{"type":"line","strokeWidth":1,"clip":true},
"encoding":{
"x":{"field":"w","type":"quantitative","axis":{"orient":"top","values":[0.25,0.3,0.35,0.45,0.5,0.55,0.65,0.7,0.75,0.85,0.9,0.95],"tickSize":-4,"labels":false,"title":null}},
"y":{"field":"v","type":"quantitative","axis":{"orient":"right","values":[10,20,30,40,60,70,80,90,110,120,130,140,160,170,180,190,210,220,230,240,260],"tickSize":-7,"labels":false,"title":null}},
"color":{"datum":"100_100","type":"nominal"}}},
{"data":{"name":"s170_300"},"mark":{"type":"line","strokeWidth":1,"clip":true},
"encoding":{"x":{"field":"w","type":"quantitative","axis":null},"y":{"field":"v","type":"quantitative","axis":null},"color":{"datum":"170_300","type":"nominal"}}},
{"data":{"name":"s170_100"},"mark":{"type":"line","strokeWidth":1,"clip":true},
"encoding":{"x":{"field":"w","type":"quantitative","axis":null},"y":{"field":"v","type":"quantitative","axis":null},"color":{"datum":"170_100","type":"nominal"}}},
{"data":{"name":"schab300"},"mark":{"type":"line","strokeWidth":1,"clip":true},
"encoding":{"x":{"field":"w","type":"quantitative","axis":null},"y":{"field":"v","type":"quantitative","axis":null},"color":{"datum":"chab300","type":"nominal"}}},
{"data":{"name":"schab100"},"mark":{"type":"line","strokeWidth":1,"clip":true},
"encoding":{"x":{"field":"w","type":"quantitative","axis":null},"y":{"field":"v","type":"quantitative","axis":null},"color":{"datum":"chab100","type":"nominal"}}},
{"data":{"name":"s135all_100"},"mark":{"type":"line","strokeWidth":1,"clip":true},
"encoding":{"x":{"field":"w","type":"quantitative","axis":null},"y":{"field":"v","type":"quantitative","axis":null},"color":{"datum":"135all_100","type":"nominal"}}},
{"data":{"values":[{}]},"mark":{"type":"text","align":"left","baseline":"alphabetic","font":"Liberation Serif","fontSize":15.5,"color":"#000"},
"encoding":{"x":{"datum":0.6583,"type":"quantitative","axis":null},"y":{"datum":30.6,"type":"quantitative","axis":null},"text":{"value":"1 Gyr Starburst, Z"}}},
{"data":{"values":[{}]},"mark":{"type":"text","align":"left","baseline":"alphabetic","font":"Liberation Serif","fontSize":9.5,"color":"#000"},
"encoding":{"x":{"datum":0.8016,"type":"quantitative","axis":null},"y":{"datum":28.1,"type":"quantitative","axis":null},"text":{"value":"Sun"}}}
],
"resolve":{"axis":{"x":"independent","y":"independent"}}
}
